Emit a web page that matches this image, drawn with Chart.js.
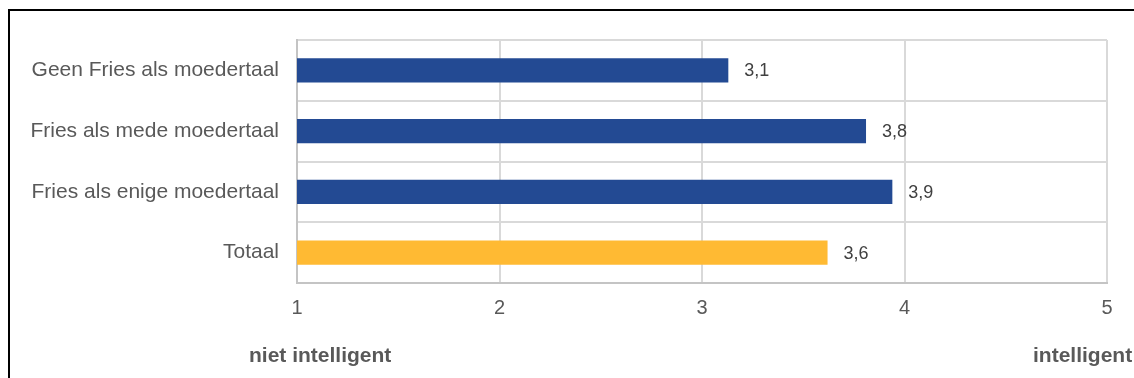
<!DOCTYPE html>
<html>
<head>
<meta charset="utf-8">
<script src="https://cdn.jsdelivr.net/npm/chart.js@4/dist/chart.umd.min.js"></script>
<style>
  html, body { margin: 0; padding: 0; background: #fff; overflow: hidden; }
  #wrap { position: relative; width: 1134px; height: 378px; }
  #frame {
    position: absolute; left: 8px; top: 9px; width: 1200px; height: 400px;
    border-left: 2px solid #000; border-top: 2px solid #000;
  }
  canvas { position: absolute; left: 0; top: 0; }
</style>
</head>
<body>
<div id="wrap">
  <div id="frame"></div>
  <canvas id="chart" width="1134" height="378"></canvas>
</div>
<script>
const categories = [
  "Geen Fries als moedertaal",
  "Fries als mede moedertaal",
  "Fries als enige moedertaal",
  "Totaal"
];
const scores = [3.13, 3.81, 3.94, 3.62];
const barColors = ["#234a93", "#234a93", "#234a93", "#ffba33"];
const scaleTicks = [1, 2, 3, 4, 5];
const lowLabel = "niet intelligent";
const highLabel = "intelligent";

const textColor = "#595959";
const fontFamily = "'Liberation Sans', Arial, sans-serif";

// value labels next to the bars, plus the two scale-end captions
const labelPlugin = {
  id: "labels",
  afterDatasetsDraw(chart) {
    const ctx = chart.ctx;
    const meta = chart.getDatasetMeta(0);
    ctx.save();
    ctx.font = "18px " + fontFamily;
    ctx.fillStyle = "#404040";
    ctx.textAlign = "left";
    ctx.textBaseline = "middle";
    meta.data.forEach((bar, i) => {
      const txt = scores[i].toFixed(1).replace(".", ",");
      ctx.fillText(txt, bar.x + 16, bar.y + 1);
    });

    const area = chart.chartArea;
    ctx.font = "bold 21px " + fontFamily;
    ctx.fillStyle = textColor;
    ctx.fillText(lowLabel, area.left - 48, 356);
    ctx.fillText(highLabel, area.right - 74, 356);
    ctx.restore();
  }
};

new Chart(document.getElementById("chart"), {
  type: "bar",
  data: {
    labels: categories,
    datasets: [{
      data: scores,
      backgroundColor: barColors,
      barPercentage: 0.4,
      categoryPercentage: 1
    }]
  },
  options: {
    indexAxis: "y",
    responsive: false,
    animation: false,
    layout: { padding: { top: 40, right: 27, left: 0, bottom: 0 } },
    plugins: {
      legend: { display: false },
      tooltip: { enabled: false }
    },
    scales: {
      x: {
        min: 1,
        max: 5,
        afterBuildTicks: scale => {
          scale.ticks = scaleTicks.map(v => ({ value: v }));
        },
        afterFit: scale => { scale.height = 95; },
        grid: { color: "#d9d9d9", lineWidth: 2, drawTicks: false },
        border: { color: "#c4c4c4", width: 2 },
        ticks: {
          padding: 13,
          color: textColor,
          font: { family: fontFamily, size: 20 }
        }
      },
      y: {
        afterFit: scale => { scale.width = 297; },
        grid: { color: "#d9d9d9", lineWidth: 2, drawTicks: false },
        border: { color: "#c4c4c4", width: 2 },
        ticks: {
          padding: 18,
          color: textColor,
          font: { family: fontFamily, size: 21 }
        }
      }
    }
  },
  plugins: [labelPlugin]
});
</script>
</body>
</html>
